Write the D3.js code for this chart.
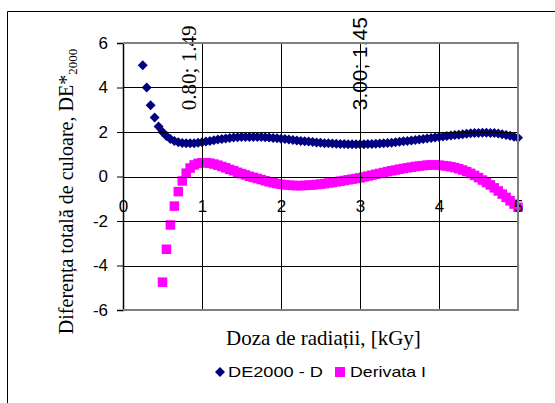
<!DOCTYPE html>
<html>
<head>
<meta charset="utf-8">
<script src="https://cdn.jsdelivr.net/npm/d3@7"></script>
<style>
  body { margin: 0; background: #fff; }
  svg { display: block; }
</style>
</head>
<body>
<div id="chart"></div>
<script>
// DE2000 - D (x = doza, y = diferenta de culoare)
var doseDE = [0.25, 0.30, 0.35, 0.40, 0.45, 0.50, 0.55, 0.60, 0.65, 0.70, 0.75, 0.80, 0.85, 0.90, 0.95,
  1.00, 1.05, 1.10, 1.15, 1.20, 1.25, 1.30, 1.35, 1.40, 1.45, 1.50, 1.55, 1.60, 1.65, 1.70, 1.75,
  1.80, 1.85, 1.90, 1.95, 2.00, 2.05, 2.10, 2.15, 2.20, 2.25, 2.30, 2.35, 2.40, 2.45, 2.50, 2.55,
  2.60, 2.65, 2.70, 2.75, 2.80, 2.85, 2.90, 2.95, 3.00, 3.05, 3.10, 3.15, 3.20, 3.25, 3.30, 3.35,
  3.40, 3.45, 3.50, 3.55, 3.60, 3.65, 3.70, 3.75, 3.80, 3.85, 3.90, 3.95, 4.00, 4.05, 4.10, 4.15,
  4.20, 4.25, 4.30, 4.35, 4.40, 4.45, 4.50, 4.55, 4.60, 4.65, 4.70, 4.75, 4.80, 4.85, 4.90, 4.95, 5.00];
var valuesDE = [5.00, 4.00, 3.20, 2.65, 2.25, 2.00, 1.82, 1.69, 1.60, 1.54, 1.51, 1.49, 1.49, 1.50, 1.52,
  1.54, 1.57, 1.60, 1.63, 1.66, 1.68, 1.71, 1.73, 1.75, 1.76, 1.77, 1.78, 1.78, 1.78, 1.78, 1.77,
  1.76, 1.75, 1.73, 1.72, 1.70, 1.68, 1.66, 1.64, 1.62, 1.60, 1.58, 1.57, 1.55, 1.53, 1.52, 1.50,
  1.49, 1.48, 1.47, 1.46, 1.46, 1.45, 1.45, 1.45, 1.45, 1.45, 1.46, 1.46, 1.47, 1.48, 1.49, 1.51,
  1.52, 1.54, 1.56, 1.58, 1.60, 1.62, 1.64, 1.66, 1.68, 1.71, 1.73, 1.75, 1.77, 1.80, 1.82, 1.84,
  1.86, 1.88, 1.90, 1.92, 1.94, 1.95, 1.96, 1.97, 1.97, 1.96, 1.95, 1.93, 1.90, 1.87, 1.83, 1.79, 1.74];

// Derivata I
var doseDer = [0.50, 0.55, 0.60, 0.65, 0.70, 0.75, 0.80, 0.85, 0.90, 0.95,
  1.00, 1.05, 1.10, 1.15, 1.20, 1.25, 1.30, 1.35, 1.40, 1.45, 1.50, 1.55, 1.60, 1.65, 1.70, 1.75,
  1.80, 1.85, 1.90, 1.95, 2.00, 2.05, 2.10, 2.15, 2.20, 2.25, 2.30, 2.35, 2.40, 2.45, 2.50, 2.55,
  2.60, 2.65, 2.70, 2.75, 2.80, 2.85, 2.90, 2.95, 3.00, 3.05, 3.10, 3.15, 3.20, 3.25, 3.30, 3.35,
  3.40, 3.45, 3.50, 3.55, 3.60, 3.65, 3.70, 3.75, 3.80, 3.85, 3.90, 3.95, 4.00, 4.05, 4.10, 4.15,
  4.20, 4.25, 4.30, 4.35, 4.40, 4.45, 4.50, 4.55, 4.60, 4.65, 4.70, 4.75, 4.80, 4.85, 4.90, 4.95, 5.00];
var valuesDer = [-4.75, -3.27, -2.18, -1.33, -0.68, -0.20, 0.15, 0.38, 0.52, 0.59,
  0.62, 0.62, 0.60, 0.56, 0.51, 0.45, 0.39, 0.32, 0.26, 0.19, 0.13, 0.07, 0.01, -0.04, -0.09, -0.14,
  -0.19, -0.24, -0.28, -0.32, -0.35, -0.37, -0.39, -0.40, -0.41, -0.41, -0.40, -0.39, -0.38, -0.36, -0.34, -0.32,
  -0.29, -0.27, -0.24, -0.21, -0.18, -0.15, -0.12, -0.09, -0.06, -0.02, 0.02, 0.06, 0.10, 0.14, 0.18, 0.22,
  0.26, 0.29, 0.33, 0.36, 0.39, 0.42, 0.45, 0.47, 0.49, 0.51, 0.52, 0.52, 0.51, 0.49, 0.47, 0.44,
  0.40, 0.35, 0.29, 0.22, 0.14, 0.05, -0.05, -0.16, -0.27, -0.38, -0.51, -0.65, -0.79, -0.94, -1.09, -1.24, -1.38];

// etichete de date (minime)
var labelDose = [0.80, 3.00];
var labelValue = [1.49, 1.45];
var labelText = ["0.80; 1.49", "3.00; 1.45"];

var xTicks = [0, 1, 2, 3, 4, 5];
var yTicks = [-6, -4, -2, 0, 2, 4, 6];
var seriesNames = ["DE2000 - D", "Derivata I"];
var colors = ["#000080", "#ff00ff"];

var W = 555, H = 403;
var margin = { top: 43, right: 37, bottom: 93, left: 123 },
    width = W - margin.left - margin.right,
    height = H - margin.top - margin.bottom;

var svgRoot = d3.select("#chart")
    .append("svg")
    .attr("width", W)
    .attr("height", H);

// chenarul graficului
svgRoot.append("path")
    .attr("d", "M7.5," + H + "V11.5H" + W)
    .attr("fill", "none")
    .attr("stroke", "#000");

var svg = svgRoot.append("g")
    .attr("transform", "translate(" + margin.left + "," + margin.top + ")");

var x = d3.scaleLinear().domain([0, 5]).range([0, width]);
var y = d3.scaleLinear().domain([-6, 6]).range([height, 0]);

var fmt = function (d) { return String(d); };

// markers
var diamond = function (s) {
  return "M0," + (-s) + "L" + s + ",0L0," + s + "L" + (-s) + ",0Z";
};
svg.append("g")
    .selectAll("path")
    .data(doseDE)
    .enter().append("path")
    .attr("transform", function (d, i) { return "translate(" + x(d) + "," + y(valuesDE[i]) + ")"; })
    .attr("d", diamond(5))
    .attr("fill", colors[0]);

svg.append("g")
    .selectAll("rect")
    .data(doseDer)
    .enter().append("rect")
    .attr("x", function (d) { return x(d) - 4.75; })
    .attr("y", function (d, i) { return y(valuesDer[i]) - 4.75; })
    .attr("width", 9.5).attr("height", 9.5)
    .attr("fill", colors[1]);

// Y axis
var yAxis = svg.append("g")
    .call(d3.axisLeft(y).tickValues(yTicks).tickSize(6).tickPadding(9).tickFormat(fmt));
yAxis.select(".domain").attr("stroke-width", 1.5);
yAxis.selectAll("text")
    .style("font-family", "Liberation Sans, Arial, sans-serif")
    .style("font-size", "17px");

// X axis at y = 0
var xAxis = svg.append("g")
    .attr("transform", "translate(0," + Math.round(y(0)) + ")")
    .call(d3.axisBottom(x).tickValues(xTicks).tickSize(5).tickSizeOuter(0).tickPadding(18).tickFormat(fmt));
xAxis.selectAll("text")
    .style("font-family", "Liberation Sans, Arial, sans-serif")
    .style("font-size", "17px");

// data labels
svg.append("text")
    .attr("transform", "translate(" + (x(labelDose[0]) + 10) + "," + (y(labelValue[0]) - 33) + ") rotate(-90)")
    .attr("textLength", 85).attr("lengthAdjust", "spacingAndGlyphs")
    .style("font-family", "Liberation Serif, Times New Roman, serif")
    .style("font-size", "20px")
    .text(labelText[0]);
svg.append("text")
    .attr("transform", "translate(" + (x(labelDose[1]) + 7) + "," + (y(labelValue[1]) - 34) + ") rotate(-90)")
    .attr("textLength", 93).attr("lengthAdjust", "spacingAndGlyphs")
    .style("font-family", "Liberation Sans, Arial, sans-serif")
    .style("font-size", "20px")
    .text(labelText[1]);

// axis titles
svg.append("text")
    .attr("x", width / 2 + 3)
    .attr("y", height + 35)
    .attr("text-anchor", "middle")
    .style("font-family", "Liberation Serif, Times New Roman, serif")
    .style("font-size", "21px")
    .text("Doza de radiații, [kGy]");

var yTitle = svg.append("text")
    .attr("transform", "translate(" + (-50) + "," + (height / 2 + 15) + ") rotate(-90)")
    .attr("text-anchor", "middle")
    .style("font-family", "Liberation Serif, Times New Roman, serif")
    .style("font-size", "20px");
yTitle.append("tspan").text("Diferența totală de culoare, DE*");
yTitle.append("tspan").attr("dy", 4).style("font-size", "13px").text("2000");

// legend
var legend = svgRoot.append("g").attr("transform", "translate(0,372)");
legend.append("path")
    .attr("transform", "translate(220,0)")
    .attr("d", diamond(5))
    .attr("fill", colors[0]);
legend.append("text")
    .attr("x", 228).attr("y", 5)
    .attr("textLength", 95).attr("lengthAdjust", "spacingAndGlyphs")
    .style("font-family", "Liberation Sans, Arial, sans-serif")
    .style("font-size", "15px")
    .text(seriesNames[0]);
legend.append("rect")
    .attr("x", 335).attr("y", -5)
    .attr("width", 10).attr("height", 10)
    .attr("fill", colors[1]);
legend.append("text")
    .attr("x", 350).attr("y", 5)
    .attr("textLength", 76).attr("lengthAdjust", "spacingAndGlyphs")
    .style("font-family", "Liberation Sans, Arial, sans-serif")
    .style("font-size", "15px")
    .text(seriesNames[1]);

// grid and plot frame, drawn last on the root
var over = svgRoot.append("g")
    .attr("transform", "translate(" + margin.left + "," + margin.top + ")");
over.selectAll(".gy")
    .data(yTicks.filter(function (d) { return d > -6 && d < 6; }))
    .enter().append("line")
    .attr("class", "gy")
    .attr("x1", 0).attr("x2", width)
    .attr("y1", function (d) { return Math.round(y(d)) + 0.5; })
    .attr("y2", function (d) { return Math.round(y(d)) + 0.5; })
    .attr("stroke", "#000")
    .attr("stroke-width", 1);
over.selectAll(".gx")
    .data(xTicks.filter(function (d) { return d > 0 && d < 5; }))
    .enter().append("line")
    .attr("class", "gx")
    .attr("y1", 0).attr("y2", height)
    .attr("x1", function (d) { return Math.round(x(d)) + 0.5; })
    .attr("x2", function (d) { return Math.round(x(d)) + 0.5; })
    .attr("stroke", "#000");
over.append("path")
    .attr("d", "M0,0H" + width + "V" + height + "H0")
    .attr("fill", "none")
    .attr("stroke", "#808080")
    .attr("stroke-width", 2);
</script>
</body>
</html>
